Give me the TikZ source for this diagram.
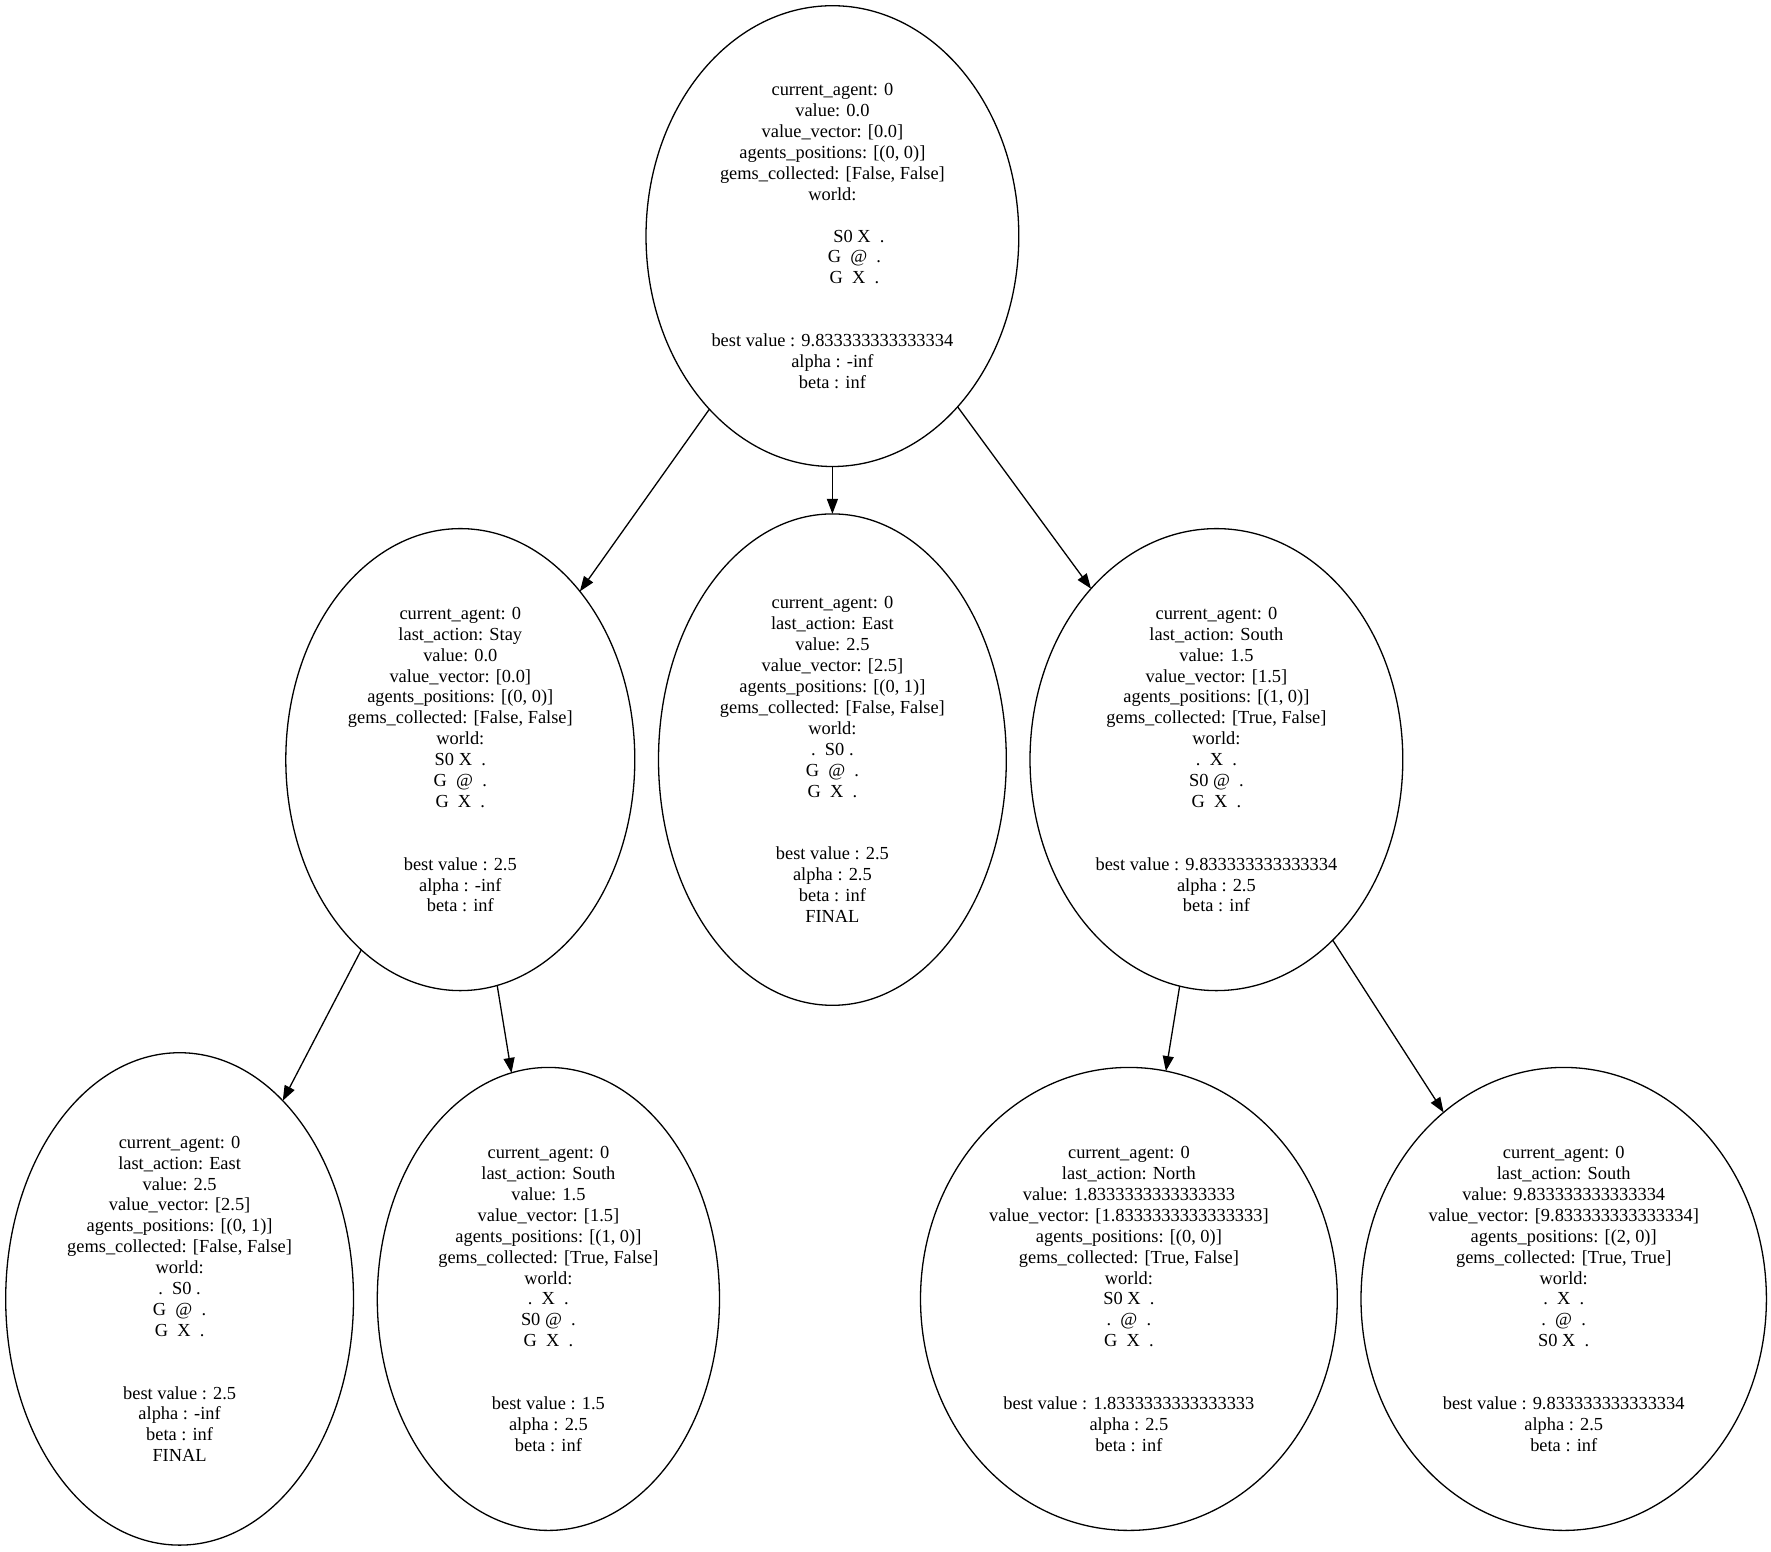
\documentclass[tikz,border=0pt]{standalone}
\usepackage{fontspec}
\setmainfont{Liberation Serif}
\usetikzlibrary{shapes.geometric,arrows.meta}

\newcommand\statefont{\fontsize{18.4pt}{20.9pt}\selectfont}
\newcommand\emptyline{\mbox{}}

\tikzset{
  state/.style={ellipse, draw, line width=1.3pt, inner sep=0pt, outer sep=0pt,
                align=center, font=\statefont},
  edge/.style={line width=1.3pt, -{Triangle[length=15pt,width=11pt]}}
}

\begin{document}
\begin{tikzpicture}[x=1pt,y=-1pt]
\useasboundingbox (0,0) rectangle (1771,1551);

% search tree states
\node[state, minimum width=372.8pt, minimum height=460.8pt] (root) at (832.4,236.1) {%
current\_agent: 0\\ value: 0.0\\ value\_vector: [0.0]\\ agents\_positions: [(0, 0)]\\
gems\_collected: [False, False]\\ world:\\ \emptyline\\
\hspace*{53pt}S0 X~~.\\ \hspace*{44pt}G~~@~~.\\ \hspace*{44pt}G~~X~~.\\
\emptyline\\ \emptyline\\
best value : 9.833333333333334\\ alpha : -inf\\ beta : inf};

\node[state, minimum width=349pt, minimum height=462pt] (stay) at (460.3,759.6) {%
current\_agent: 0\\ last\_action: Stay\\ value: 0.0\\ value\_vector: [0.0]\\
agents\_positions: [(0, 0)]\\ gems\_collected: [False, False]\\ world:\\
S0 X~~.\\ G~~@~~.\\ G~~X~~.\\ \emptyline\\ \emptyline\\
best value : 2.5\\ alpha : -inf\\ beta : inf};

\node[state, minimum width=347.8pt, minimum height=491.4pt] (east) at (832.4,759.6) {%
current\_agent: 0\\ last\_action: East\\ value: 2.5\\ value\_vector: [2.5]\\
agents\_positions: [(0, 1)]\\ gems\_collected: [False, False]\\ world:\\
.~~S0~.\\ G~~@~~.\\ G~~X~~.\\ \emptyline\\ \emptyline\\
best value : 2.5\\ alpha : 2.5\\ beta : inf\\ FINAL};

\node[state, minimum width=372.8pt, minimum height=462pt] (south) at (1216.4,759.6) {%
current\_agent: 0\\ last\_action: South\\ value: 1.5\\ value\_vector: [1.5]\\
agents\_positions: [(1, 0)]\\ gems\_collected: [True, False]\\ world:\\
.~~X~~.\\ S0 @~~.\\ G~~X~~.\\ \emptyline\\ \emptyline\\
best value : 9.833333333333334\\ alpha : 2.5\\ beta : inf};

\node[state, minimum width=347.8pt, minimum height=492.4pt] (stayeast) at (179.6,1298.9) {%
current\_agent: 0\\ last\_action: East\\ value: 2.5\\ value\_vector: [2.5]\\
agents\_positions: [(0, 1)]\\ gems\_collected: [False, False]\\ world:\\
.~~S0~.\\ G~~@~~.\\ G~~X~~.\\ \emptyline\\ \emptyline\\
best value : 2.5\\ alpha : -inf\\ beta : inf\\ FINAL};

\node[state, minimum width=342.2pt, minimum height=463pt] (staysouth) at (548.4,1298.9) {%
current\_agent: 0\\ last\_action: South\\ value: 1.5\\ value\_vector: [1.5]\\
agents\_positions: [(1, 0)]\\ gems\_collected: [True, False]\\ world:\\
.~~X~~.\\ S0 @~~.\\ G~~X~~.\\ \emptyline\\ \emptyline\\
best value : 1.5\\ alpha : 2.5\\ beta : inf};

\node[state, minimum width=416.8pt, minimum height=463pt] (southnorth) at (1128.9,1298.9) {%
current\_agent: 0\\ last\_action: North\\ value: 1.8333333333333333\\
value\_vector: [1.8333333333333333]\\
agents\_positions: [(0, 0)]\\ gems\_collected: [True, False]\\ world:\\
S0 X~~.\\ .~~@~~.\\ G~~X~~.\\ \emptyline\\ \emptyline\\
best value : 1.8333333333333333\\ alpha : 2.5\\ beta : inf};

\node[state, minimum width=405.4pt, minimum height=463pt] (southsouth) at (1563.7,1298.9) {%
current\_agent: 0\\ last\_action: South\\ value: 9.833333333333334\\
value\_vector: [9.833333333333334]\\
agents\_positions: [(2, 0)]\\ gems\_collected: [True, True]\\ world:\\
.~~X~~.\\ .~~@~~.\\ S0 X~~.\\ \emptyline\\ \emptyline\\
best value : 9.833333333333334\\ alpha : 2.5\\ beta : inf};

% transitions
\draw[edge] (root) -- (stay);
\draw[edge] (root) -- (east);
\draw[edge] (root) -- (south);
\draw[edge] (stay) -- (stayeast);
\draw[edge] (stay) -- (staysouth);
\draw[edge] (south) -- (southnorth);
\draw[edge] (south) -- (southsouth);
\end{tikzpicture}
\end{document}
